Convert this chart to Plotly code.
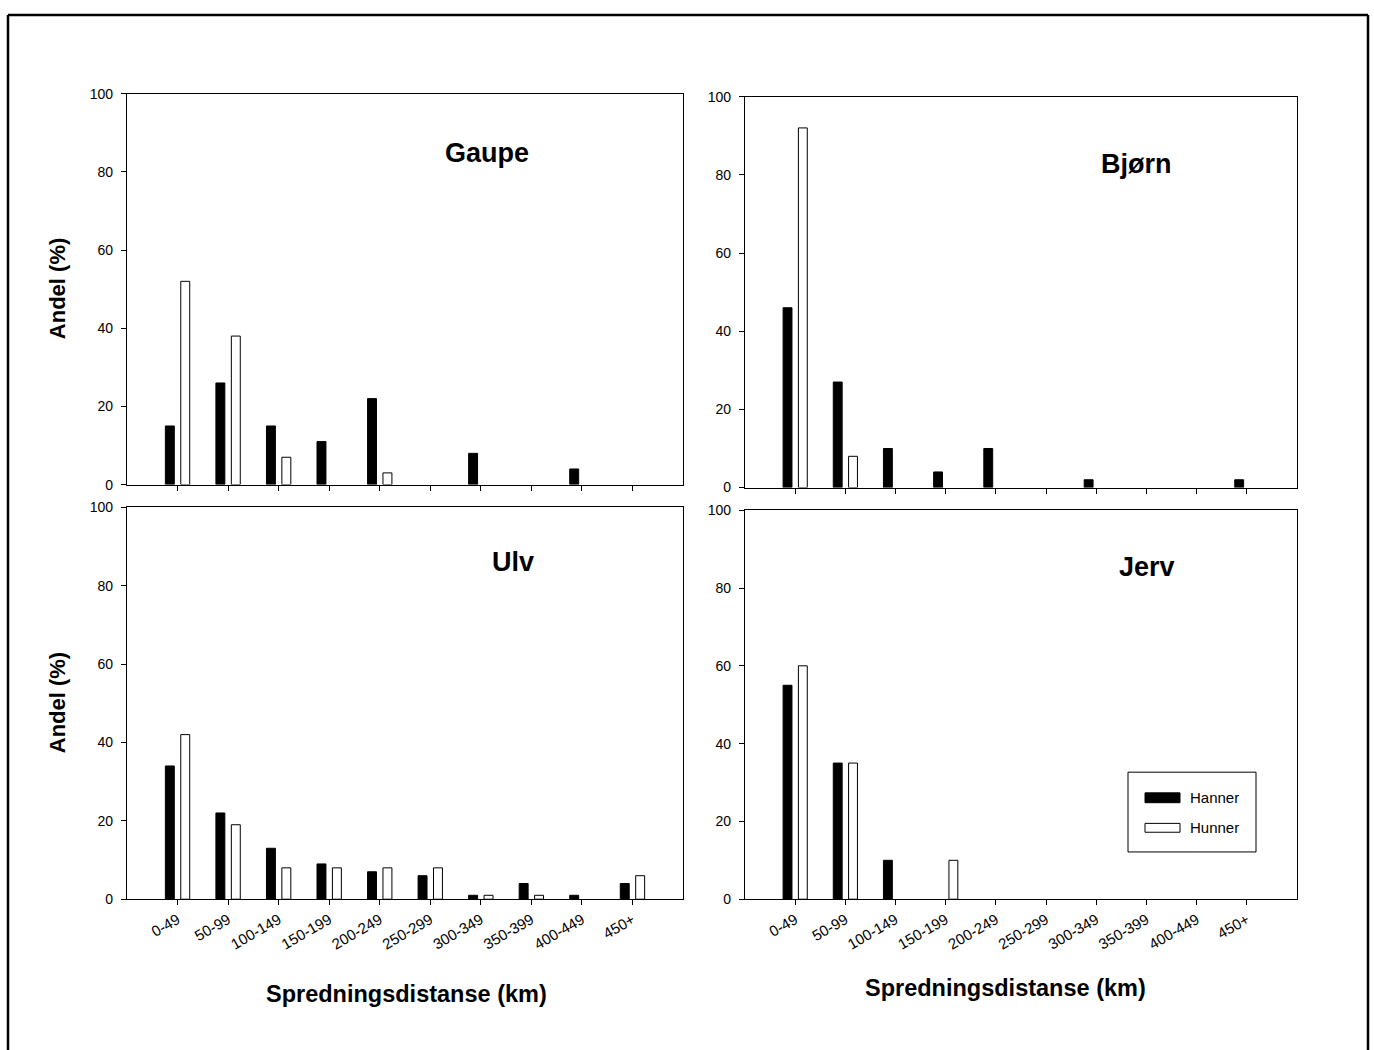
import plotly.graph_objects as go

categories = ["0-49", "50-99", "100-149", "150-199", "200-249",
              "250-299", "300-349", "350-399", "400-449", "450+"]

gaupe_hanner = [15, 26, 15, 11, 22, 0, 8, 0, 4, 0]
gaupe_hunner = [52, 38, 7, 0, 3, 0, 0, 0, 0, 0]

bjorn_hanner = [46, 27, 10, 4, 10, 0, 2, 0, 0, 2]
bjorn_hunner = [92, 8, 0, 0, 0, 0, 0, 0, 0, 0]

ulv_hanner = [34, 22, 13, 9, 7, 6, 1, 4, 1, 4]
ulv_hunner = [42, 19, 8, 8, 8, 8, 1, 1, 0, 6]

jerv_hanner = [55, 35, 10, 0, 0, 0, 0, 0, 0, 0]
jerv_hunner = [60, 35, 0, 10, 0, 0, 0, 0, 0, 0]

panel_names = ["Gaupe", "Bjørn", "Ulv", "Jerv"]
series_names = ["Hanner", "Hunner"]
y_ticks = [0, 20, 40, 60, 80, 100]

W, H = 1374, 1050
FONT = "Liberation Sans, Arial, Helvetica, sans-serif"

def px_x(x):
    return x / W

def px_y(y):
    return 1 - y / H

def drop_zero(vals):
    # zero-height bars are not drawn at all in the original
    return [v if v > 0 else None for v in vals]

panels = [
    dict(data=(gaupe_hanner, gaupe_hunner), xd=(127, 683), yd=(87, 484), label_pos=(487, 147), labels=False),
    dict(data=(bjorn_hanner, bjorn_hunner), xd=(745, 1297), yd=(90, 487), label_pos=(1136, 158), labels=False),
    dict(data=(ulv_hanner, ulv_hunner), xd=(127, 683), yd=(507, 905), label_pos=(513, 563), labels=True),
    dict(data=(jerv_hanner, jerv_hunner), xd=(745, 1297), yd=(510, 905), label_pos=(1147, 568), labels=True),
]

fig = go.Figure()
layout = dict(
    width=W, height=H,
    margin=dict(l=0, r=0, t=0, b=0),
    paper_bgcolor="white", plot_bgcolor="white",
    barmode="group", bargap=0.39, bargroupgap=0.42,
    showlegend=False,
    font=dict(family=FONT, color="black"),
)

annotations = []
shapes = []

for i, p in enumerate(panels):
    n = i + 1
    xa = "x" if n == 1 else f"x{n}"
    ya = "y" if n == 1 else f"y{n}"
    hanner, hunner = p["data"]
    fig.add_trace(go.Bar(x=categories, y=drop_zero(hanner), name=series_names[0], xaxis=xa, yaxis=ya,
                         marker=dict(color="black", line=dict(color="black", width=1))))
    fig.add_trace(go.Bar(x=categories, y=drop_zero(hunner), name=series_names[1], xaxis=xa, yaxis=ya,
                         marker=dict(color="white", line=dict(color="black", width=1))))
    xkey = "xaxis" if n == 1 else f"xaxis{n}"
    ykey = "yaxis" if n == 1 else f"yaxis{n}"
    layout[xkey] = dict(
        domain=[px_x(p["xd"][0]), px_x(p["xd"][1])],
        anchor=ya, type="category", categoryorder="array", categoryarray=categories,
        range=[-1, 10],
        showline=True, linecolor="black", linewidth=1.3, mirror=True,
        ticks="outside", ticklen=5, tickwidth=1, tickcolor="black",
        showticklabels=p["labels"], tickangle=-30,
        tickfont=dict(family=FONT, size=15, color="black"),
        showgrid=False, zeroline=False, fixedrange=True,
    )
    layout[ykey] = dict(
        domain=[px_y(p["yd"][1]), px_y(p["yd"][0])],
        anchor=xa, range=[0, 100], tickvals=y_ticks,
        showline=True, linecolor="black", linewidth=1.3, mirror=True,
        ticks="outside", ticklen=5, tickwidth=1, tickcolor="black",
        ticklabelstandoff=5,
        tickfont=dict(family=FONT, size=14, color="black"),
        showgrid=False, zeroline=False, fixedrange=True,
    )
    lx, ly = p["label_pos"]
    annotations.append(dict(text=f"<b>{panel_names[i]}</b>", x=px_x(lx), y=px_y(ly),
                            xref="paper", yref="paper", showarrow=False,
                            xanchor="center", yanchor="middle",
                            font=dict(family=FONT, size=27, color="black")))

# y-axis titles (left column)
for yc in (285.5, 706):
    annotations.append(dict(text="<b>Andel (%)</b>", x=px_x(57), y=px_y(yc), xref="paper", yref="paper",
                            showarrow=False, textangle=-90, xanchor="center", yanchor="middle",
                            font=dict(family=FONT, size=22, color="black")))

# x-axis titles
for xc, yc in ((406, 1001), (1005, 995)):
    annotations.append(dict(text="<b>Spredningsdistanse (km)</b>", x=px_x(xc), y=px_y(yc),
                            xref="paper", yref="paper", showarrow=False,
                            xanchor="center", yanchor="middle",
                            font=dict(family=FONT, size=23.5, color="black")))

# legend box
shapes.append(dict(type="rect", xref="paper", yref="paper",
                   x0=px_x(1128), x1=px_x(1256), y0=px_y(857), y1=px_y(776),
                   line=dict(color="black", width=1), fillcolor="white"))
shapes.append(dict(type="rect", xref="paper", yref="paper",
                   x0=px_x(1145), x1=px_x(1180), y0=px_y(807), y1=px_y(797),
                   line=dict(color="black", width=1), fillcolor="black"))
shapes.append(dict(type="rect", xref="paper", yref="paper",
                   x0=px_x(1145), x1=px_x(1180), y0=px_y(837), y1=px_y(828),
                   line=dict(color="black", width=1), fillcolor="white"))
for txt, yc in ((series_names[0], 802), (series_names[1], 832)):
    annotations.append(dict(text=txt, x=px_x(1188), y=px_y(yc), xref="paper", yref="paper",
                            showarrow=False, xanchor="left", yanchor="middle",
                            font=dict(family=FONT, size=15, color="black")))

# outer frame (bottom edge lies outside the picture)
frame = dict(color="black", width=2.5)
shapes.append(dict(type="line", xref="paper", yref="paper", x0=px_x(8), x1=px_x(8), y0=px_y(7), y1=-0.02, line=frame))
shapes.append(dict(type="line", xref="paper", yref="paper", x0=px_x(8), x1=px_x(1368), y0=px_y(7), y1=px_y(7), line=frame))
shapes.append(dict(type="line", xref="paper", yref="paper", x0=px_x(1368), x1=px_x(1368), y0=px_y(7), y1=-0.02, line=frame))

layout["annotations"] = annotations
layout["shapes"] = shapes
fig.update_layout(**layout)
fig.write_html("out.html")
